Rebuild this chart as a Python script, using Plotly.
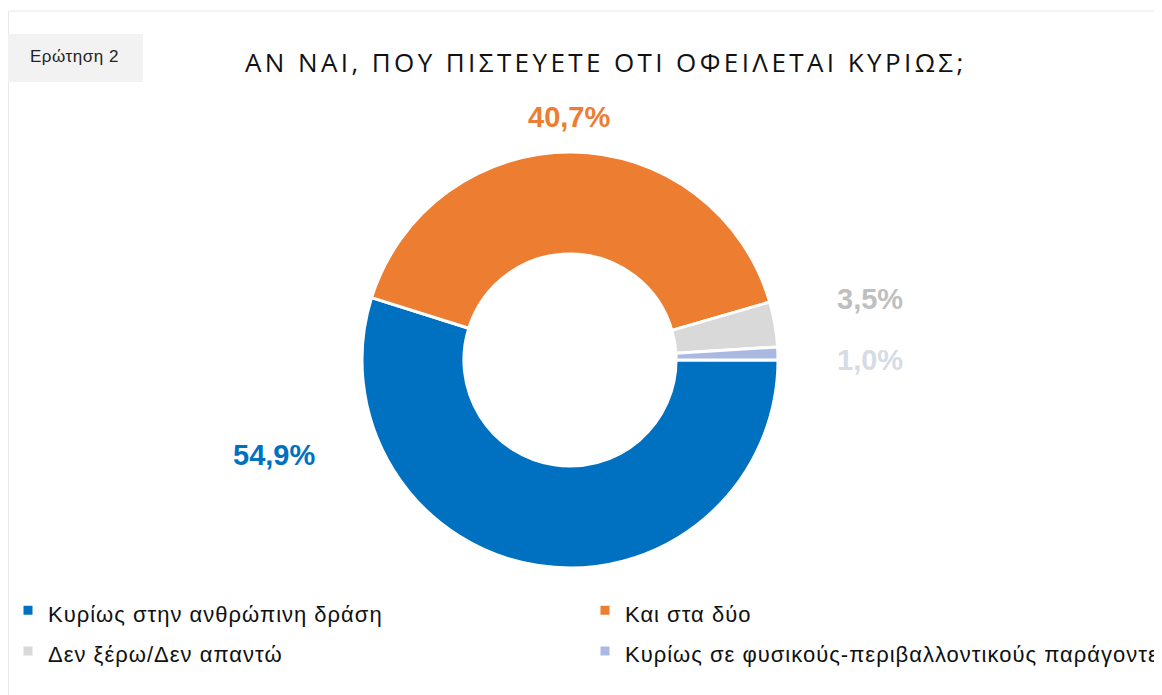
import plotly.graph_objects as go

# Figure fills the window; the page body adds an 8px offset, so positions below are page coords minus 8.
W, H = 1154, 687
OFF = 8

categories = ["Κυρίως στην ανθρώπινη δράση", "Και στα δύο", "Δεν ξέρω/Δεν απαντώ",
              "Κυρίως σε φυσικούς-περιβαλλοντικούς παράγοντες"]
values = [54.9, 40.7, 3.5, 1.0]
slice_colors = ["#0070C0", "#ED7D31", "#D9D9D9", "#AAB9E2"]
label_colors = ["#0070C0", "#ED7D31", "#BFBFBF", "#D6DCE5"]
label_pos = [(274, 455), (569, 117), (870, 299), (870, 360)]  # page pixel positions of value labels

cx, cy, r = 570 - OFF, 360 - OFF, 208


def px(x):
    return x / W


def py(y):
    return 1 - y / H


def spaced(t, s, size=None):
    st = f"letter-spacing:{s}px"
    if size:
        st += f";font-size:{size}px"
    return f"<span style='{st}'>{t}</span>"


fig = go.Figure()
fig.add_trace(go.Pie(
    labels=[spaced(c, 1, 22) for c in categories], values=values, sort=False, direction="clockwise",
    rotation=90, hole=0.51, textinfo="none", hoverinfo="label+percent",
    marker=dict(colors=slice_colors, line=dict(color="white", width=3)),
    domain=dict(x=[px(cx - r), px(cx + r)], y=[py(cy + r), py(cy - r)]),
    showlegend=True,
))


def fmt(v):
    return f"{v:.1f}".replace(".", ",") + "%"


annotations = []
for v, c, (x, y) in zip(values, label_colors, label_pos):
    annotations.append(dict(x=px(x - OFF), y=py(y - OFF), xref="paper", yref="paper",
                            text=f"<b>{fmt(v)}</b>", showarrow=False,
                            font=dict(family="Liberation Sans, Arial", size=29, color=c),
                            xanchor="center", yanchor="middle"))
annotations.append(dict(x=px(243 - OFF), y=py(62 - OFF), xref="paper", yref="paper",
                        text=spaced("ΑΝ ΝΑΙ, ΠΟΥ ΠΙΣΤΕΥΕΤΕ ΟΤΙ ΟΦΕΙΛΕΤΑΙ ΚΥΡΙΩΣ;", 3.4), showarrow=False,
                        font=dict(family="Open Sans", size=26, color="#111111"),
                        xanchor="left", yanchor="middle"))
annotations.append(dict(x=px(28 - OFF), y=py(57 - OFF), xref="paper", yref="paper",
                        text=spaced("Ερώτηση 2", 0.5),
                        showarrow=False, font=dict(family="Liberation Sans, Arial", size=17, color="#222222"),
                        xanchor="left", yanchor="middle"))

shapes = [
    dict(type="rect", xref="paper", yref="paper", x0=px(0.5), x1=1.02, y0=-0.02, y1=py(11 - OFF),
         line=dict(color="#E8E8E8", width=1), fillcolor="rgba(0,0,0,0)", layer="below"),
    dict(type="rect", xref="paper", yref="paper", x0=px(0), x1=px(143 - OFF), y0=py(82 - OFF), y1=py(34 - OFF),
         line=dict(width=0), fillcolor="#F2F2F2", layer="below"),
]

fig.update_layout(
    width=W, height=H, margin=dict(l=0, r=0, t=0, b=0, autoexpand=False),
    paper_bgcolor="white", plot_bgcolor="white",
    annotations=annotations, shapes=shapes,
    showlegend=True,
    legend=dict(orientation="h", x=px(0), y=py(631 - OFF), xanchor="left", yanchor="middle",
                entrywidth=532, entrywidthmode="pixels", traceorder="normal",
                bgcolor="rgba(0,0,0,0)",
                font=dict(family="Liberation Sans, Arial", size=29, color="#111111")),
)

fig.write_html("out.html")
